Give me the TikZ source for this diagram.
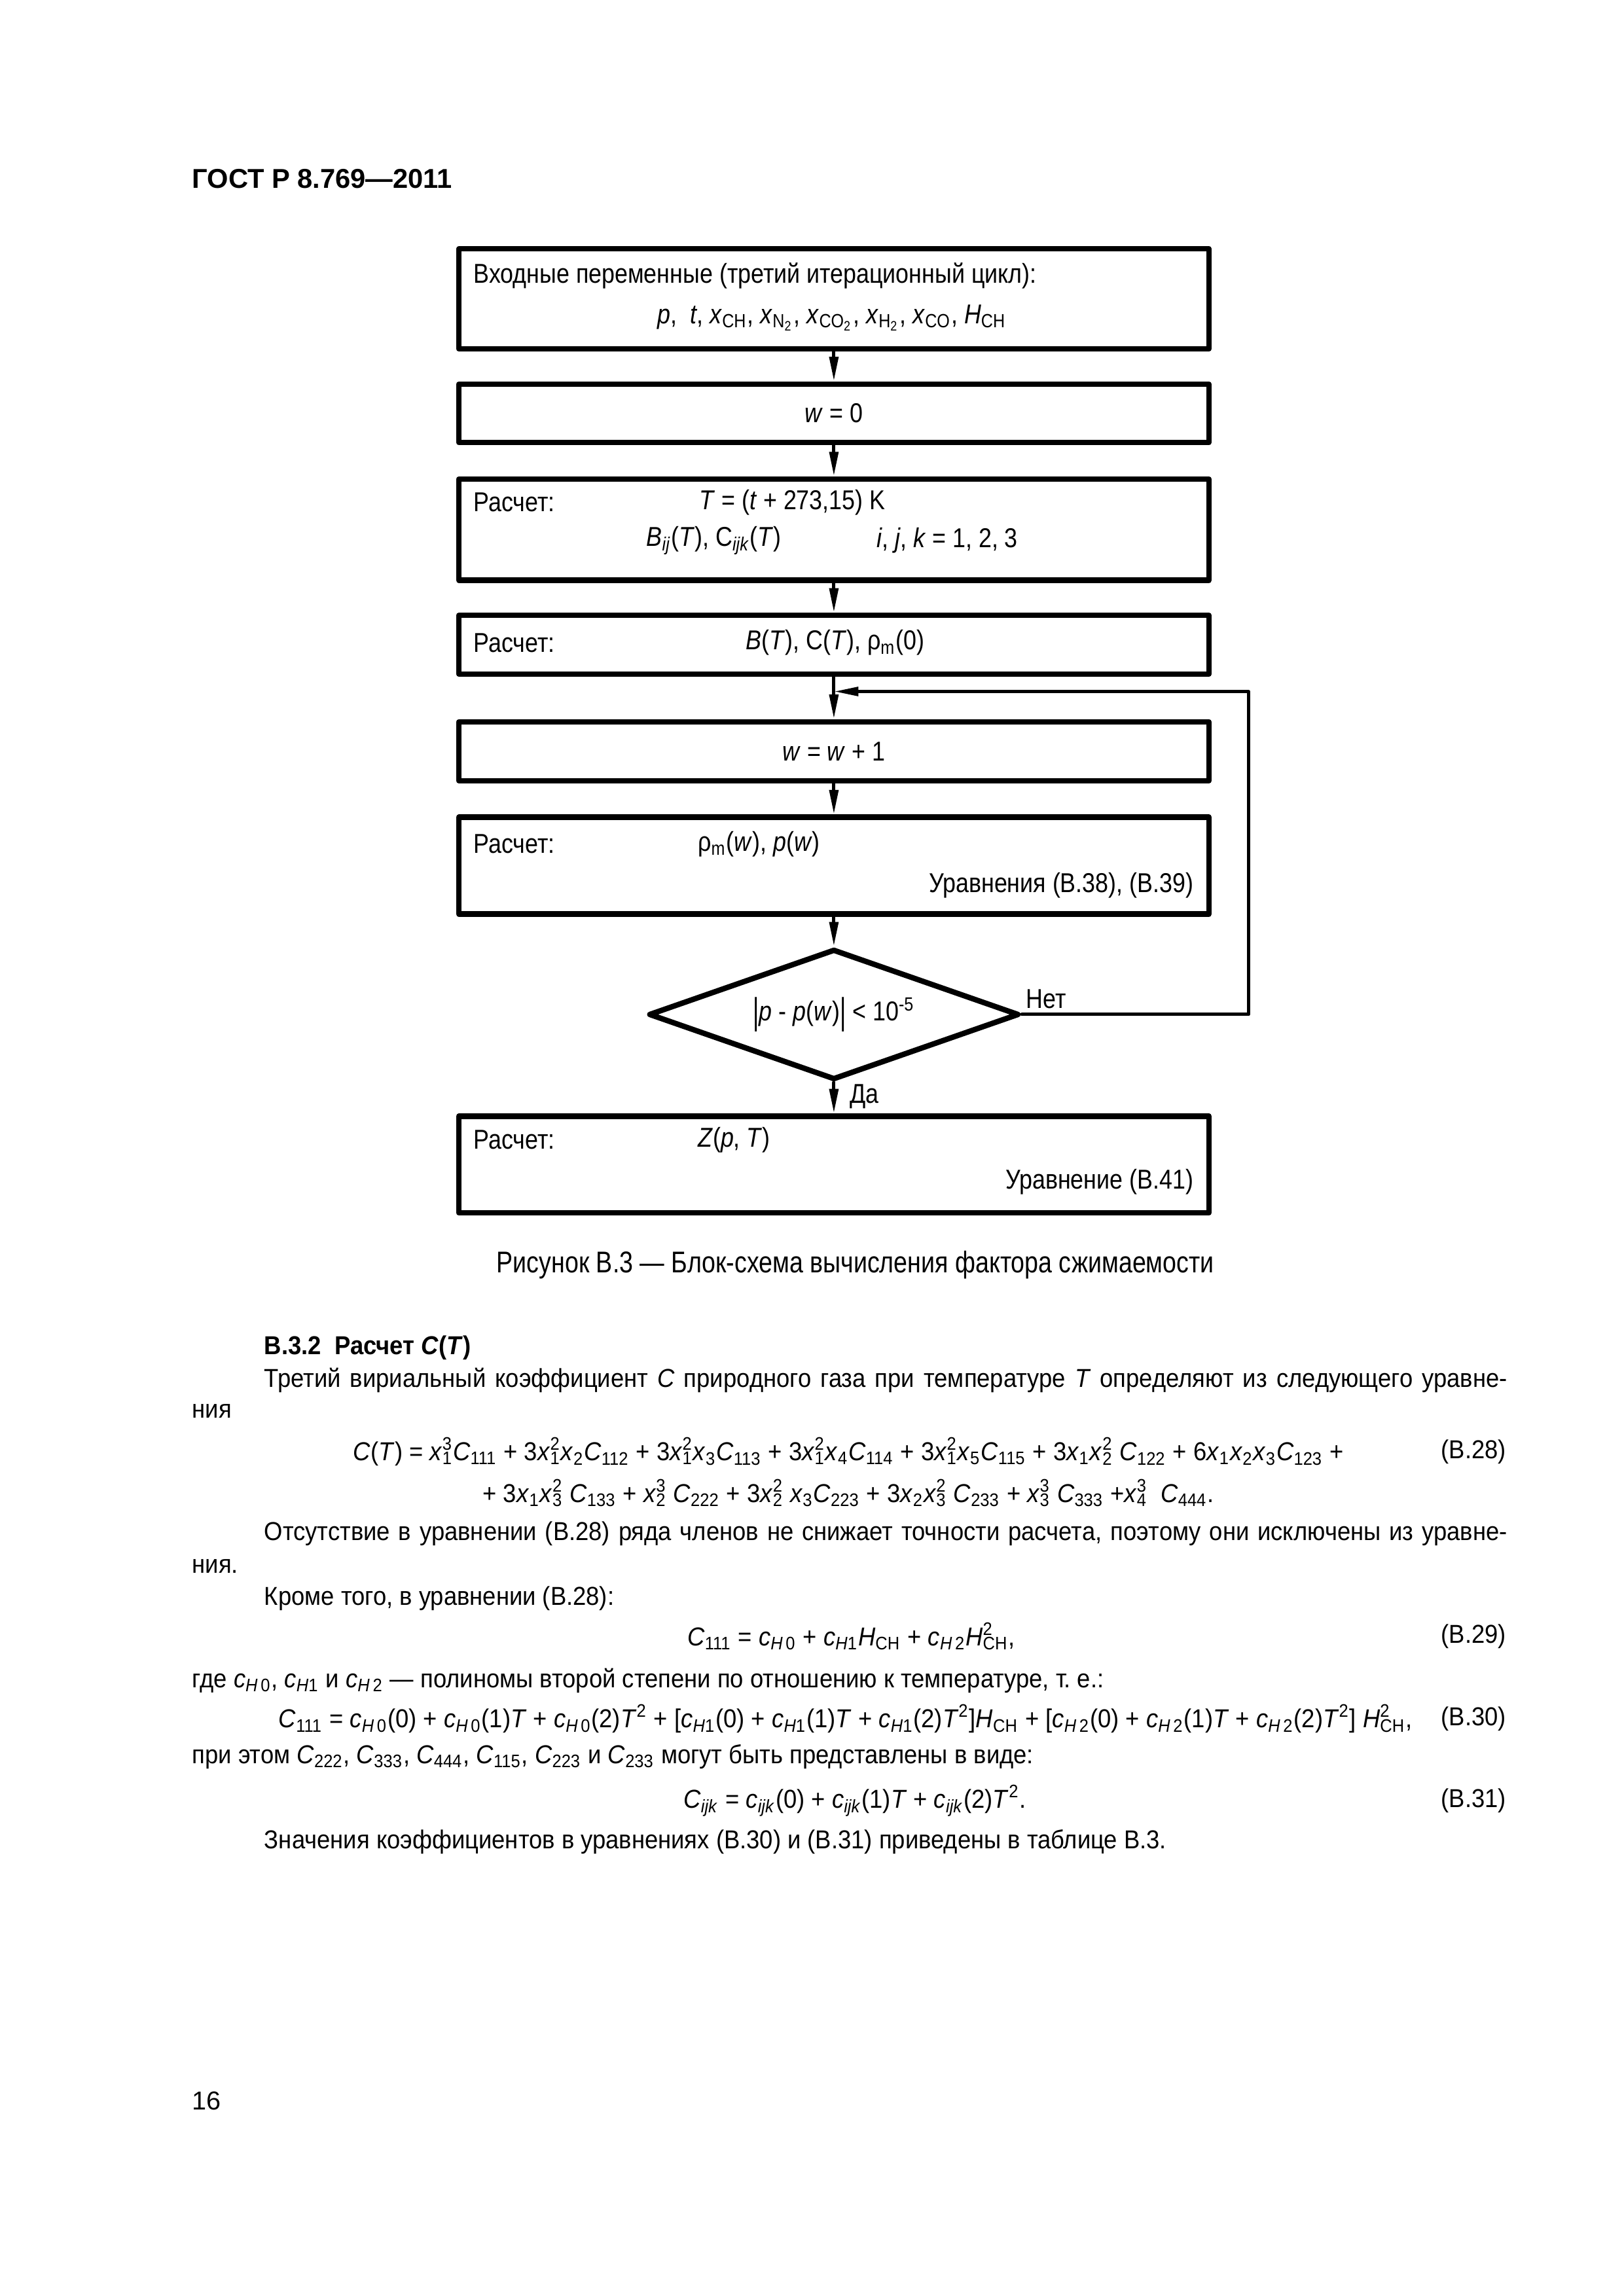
\documentclass[tikz,border=0pt]{standalone}
\usepackage{fontspec}
\setmainfont{Liberation Sans}
\newfontfamily\narrow[FakeStretch=0.86]{Liberation Sans}
\newfontfamily\bodyfont[FakeStretch=0.92]{Liberation Sans}
\newfontfamily\capfont[FakeStretch=0.82]{Liberation Sans}
\usetikzlibrary{arrows.meta,shapes.geometric}
\newsavebox\lowbox
\newsavebox\highbox
\newcommand\iv[1]{\textit{#1}}
\newcommand\lo[1]{\textsubscript{#1}}
\newcommand\hi[1]{\textsuperscript{#1}}
% sub- and superscript stacked
\newcommand\ssp[2]{\sbox\lowbox{\textsubscript{#1}}\sbox\highbox{\textsuperscript{#2}}%
  \rlap{\usebox\lowbox}\usebox\highbox\ifdim\wd\lowbox>\wd\highbox\hspace{\dimexpr\wd\lowbox-\wd\highbox\relax}\fi}
\newcommand\vbar{\raisebox{-1.2pt}{\scalebox{1}[1.35]{|}}}
\tikzset{
  box/.style={draw,line width=2pt,minimum width=275pt,inner sep=0pt},
  arr/.style={line width=1.2pt,-{Triangle[length=9pt,width=3.2pt]}},
  lbl/.style={font=\narrow\fontsize{10}{12}\selectfont,inner sep=0pt},
  txt/.style={font=\bodyfont\fontsize{9.5}{11}\selectfont,inner sep=0pt}
}
\begin{document}
\begin{tikzpicture}[line cap=round,line join=round,x=0.2383pt,y=-0.2383pt]
\useasboundingbox (0,0) rectangle (2497.7,3533);
\node[anchor=west,inner sep=0pt,font=\bfseries\fontsize{10}{12}\selectfont] (head) at (295,275) {ГОСТ Р 8.769—2011};
% blocks
\node[box,minimum height=36.7pt] (inp) at (1283,460) {};
\node[box,minimum height=21.45pt] (wzero) at (1283,636) {};
\node[box,minimum height=37.1pt] (tcalc) at (1283,815) {};
\node[box,minimum height=21.45pt] (bcalc) at (1283,992) {};
\node[box,minimum height=21.6pt] (winc) at (1283,1156) {};
\node[box,minimum height=35.5pt] (rcalc) at (1283,1332) {};
\node[draw,diamond,aspect=2.84,line width=2pt,minimum width=135.8pt,minimum height=47.9pt,inner sep=0pt,lbl] (dec) at (1283,1561) {\vbar\iv{p} - \iv{p}(\iv{w})\vbar\ {<} 10\hi{-5}};
\node[box,minimum height=35.5pt] (zcalc) at (1283,1792) {};
% texts
\node[lbl,anchor=west] (inp1) at (728,424) {Входные переменные (третий итерационный цикл):};
\node[lbl] (inp2) at (1280,489) {\iv{p}, \ \iv{t}, \iv{x}\lo{CH}, \iv{x}\lo{N\lo{2}}, \iv{x}\lo{CO\lo{2}}, \iv{x}\lo{H\lo{2}}, \iv{x}\lo{CO}, \iv{H}\lo{CH}};
\node[lbl] (w0) at (1283,636) {\iv{w} = 0};
\node[lbl,anchor=west] (t1) at (728,773) {Расчет:};
\node[lbl,anchor=west] (t2) at (1075,773) {\iv{T} = (\iv{t} + 273,15) K};
\node[lbl,anchor=west] (t3) at (994,832) {\iv{B}\lo{\iv{ij}}(\iv{T}), C\lo{\iv{ijk}}(\iv{T})};
\node[lbl,anchor=west] (t4) at (1348,832) {\iv{i}, \iv{j}, \iv{k} = 1, 2, 3};
\node[lbl,anchor=west] (b1) at (728,989) {Расчет:};
\node[lbl,anchor=west] (b2) at (1147,989) {\iv{B}(\iv{T}), C(\iv{T}), ρ\lo{m}(0)};
\node[lbl] (w1) at (1283,1156) {\iv{w} = \iv{w} + 1};
\node[lbl,anchor=west] (r1) at (728,1299) {Расчет:};
\node[lbl,anchor=west] (r2) at (1073,1299) {ρ\lo{m}(\iv{w}), \iv{p}(\iv{w})};
\node[lbl,anchor=east] (r3) at (1837,1362) {Уравнения (В.38), (В.39)};
\node[lbl,anchor=west] (z1) at (728,1754) {Расчет:};
\node[lbl,anchor=west] (z2) at (1073,1754) {\iv{Z}(\iv{p}, \iv{T})};
\node[lbl,anchor=east] (z3) at (1837,1819) {Уравнение (В.41)};
% connectors
\coordinate (rt) at (1921,1064);
\coordinate (join) at (1283,1064);
\draw[arr] (inp) -- (wzero);
\draw[arr] (wzero) -- (tcalc);
\draw[arr] (tcalc) -- (bcalc);
\draw[arr] (bcalc) -- (winc);
\draw[arr] (winc) -- (rcalc);
\draw[arr] (rcalc) -- (dec);
\draw[arr] (dec) -- (zcalc);
\draw[arr] (dec.east) -| (rt) -- (join);
\node[lbl,anchor=south west] (no) at ([shift={(6,-8)}]dec.east) {Нет};
\node[lbl,anchor=north west] (yes) at ([shift={(24,2)}]dec.south) {Да};
\node[lbl,font=\capfont\fontsize{11}{13}\selectfont] (cap) at (1316,1946) {Рисунок В.3 — Блок-схема вычисления фактора сжимаемости};
% page text
\node[txt,anchor=west,font=\bodyfont\bfseries\fontsize{9.5}{11}\selectfont] (sec) at (406,2074) {В.3.2\ \ Расчет \iv{C}(\iv{T})};
\node[txt,anchor=west] (p1) at (406,2124) {\makebox[455.7pt][s]{Третий вириальный коэффициент \iv{C} природного газа при температуре \iv{T} определяют из следующего уравне-}};
\node[txt,anchor=west] (p1b) at (295,2171) {ния};
\node[txt,anchor=west] (e28a) at (543,2234) {\iv{C}(\iv{T}) = \iv{x}\ssp{1}{3}\iv{C}\lo{111} + 3\iv{x}\ssp{1}{2}\iv{x}\lo{2}\iv{C}\lo{112} + 3\iv{x}\ssp{1}{2}\iv{x}\lo{3}\iv{C}\lo{113} + 3\iv{x}\ssp{1}{2}\iv{x}\lo{4}\iv{C}\lo{114} + 3\iv{x}\ssp{1}{2}\iv{x}\lo{5}\iv{C}\lo{115} + 3\iv{x}\lo{1}\iv{x}\ssp{2}{2} \iv{C}\lo{122} + 6\iv{x}\lo{1}\iv{x}\lo{2}\iv{x}\lo{3}\iv{C}\lo{123} +};
\node[txt,anchor=east] (n28) at (2318,2234) {(В.28)};
\node[txt,anchor=west] (e28b) at (742,2297) {+ 3\iv{x}\lo{1}\iv{x}\ssp{3}{2} \iv{C}\lo{133} + \iv{x}\ssp{2}{3} \iv{C}\lo{222} + 3\iv{x}\ssp{2}{2} \iv{x}\lo{3}\iv{C}\lo{223} + 3\iv{x}\lo{2}\iv{x}\ssp{3}{2} \iv{C}\lo{233} + \iv{x}\ssp{3}{3} \iv{C}\lo{333} +\iv{x}\ssp{4}{3}\ \ \iv{C}\lo{444}.};
\node[txt,anchor=west] (p2) at (406,2360) {\makebox[455.7pt][s]{Отсутствие в уравнении (В.28) ряда членов не снижает точности расчета, поэтому они исключены из уравне-}};
\node[txt,anchor=west] (p2b) at (295,2410) {ния.};
\node[txt,anchor=west] (p3) at (406,2460) {Кроме того, в уравнении (В.28):};
\node[txt,anchor=west] (e29) at (1057,2518) {\iv{C}\lo{111} = \iv{c}\lo{\iv{H}\,0} + \iv{c}\lo{\iv{H}1}\iv{H}\lo{CH} + \iv{c}\lo{\iv{H}\,2}\iv{H}\ssp{CH}{2},};
\node[txt,anchor=east] (n29) at (2318,2518) {(В.29)};
\node[txt,anchor=west] (p4) at (295,2586) {где \iv{c}\lo{\iv{H}\,0}, \iv{c}\lo{\iv{H}1} и \iv{c}\lo{\iv{H}\,2} — полиномы второй степени по отношению к температуре, т.~е.:};
\node[txt,anchor=west] (e30) at (428,2645) {\iv{C}\lo{111} = \iv{c}\lo{\iv{H}\,0}(0) + \iv{c}\lo{\iv{H}\,0}(1)\iv{T} + \iv{c}\lo{\iv{H}\,0}(2)\iv{T}\hi{2} + [\iv{c}\lo{\iv{H}1}(0) + \iv{c}\lo{\iv{H}1}(1)\iv{T} + \iv{c}\lo{\iv{H}1}(2)\iv{T}\hi{2}]\iv{H}\lo{CH} + [\iv{c}\lo{\iv{H}\,2}(0) + \iv{c}\lo{\iv{H}\,2}(1)\iv{T} + \iv{c}\lo{\iv{H}\,2}(2)\iv{T}\hi{2}] \iv{H}\ssp{CH}{2},};
\node[txt,anchor=east] (n30) at (2318,2645) {(В.30)};
\node[txt,anchor=west] (p5) at (295,2703) {при этом \iv{C}\lo{222}, \iv{C}\lo{333}, \iv{C}\lo{444}, \iv{C}\lo{115}, \iv{C}\lo{223} и \iv{C}\lo{233} могут быть представлены в виде:};
\node[txt,anchor=west] (e31) at (1051,2771) {\iv{C}\lo{\iv{ijk}} = \iv{c}\lo{\iv{ijk}}(0) + \iv{c}\lo{\iv{ijk}}(1)\iv{T} + \iv{c}\lo{\iv{ijk}}(2)\iv{T}\hi{2}.};
\node[txt,anchor=east] (n31) at (2318,2771) {(В.31)};
\node[txt,anchor=west] (p6) at (406,2834) {Значения коэффициентов в уравнениях (В.30) и (В.31) приведены в таблице В.3.};
\node[anchor=west,inner sep=0pt,font=\fontsize{9.5}{11}\selectfont] (pg) at (295,3233) {16};
\end{tikzpicture}
\end{document}
